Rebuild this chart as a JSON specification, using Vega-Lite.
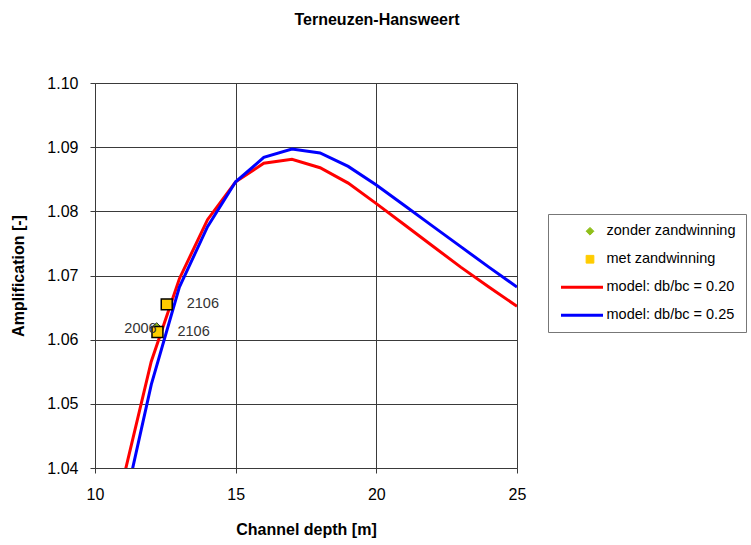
{
  "$schema": "https://vega.github.io/schema/vega-lite/v6.json",
  "width": 422,
  "height": 385,
  "autosize": "none",
  "padding": {"left": 95, "top": 83, "right": 234, "bottom": 77},
  "background": "white",
  "title": {"text": "Terneuzen-Hansweert", "font": "Liberation Sans", "fontSize": 16, "fontWeight": "bold", "color": "black", "anchor": "middle", "dx": 71, "offset": 47},
  "config": {
    "view": {"stroke": null},
    "axis": {"labelFont": "Liberation Sans", "labelFontSize": 16, "labelColor": "black", "titleFont": "Liberation Sans", "titleFontSize": 16, "titleFontWeight": "bold", "titleColor": "black", "gridColor": "#3a3a3a", "gridWidth": 1, "gridOpacity": 1, "domainColor": "#3a3a3a", "tickColor": "#3a3a3a", "tickSize": 5, "ticks": true, "labelFlush": false}
  },
  "datasets": {
    "model": [
      {"depth": 11, "amp": 1.0382, "series": "model: db/bc = 0.20"},
      {"depth": 12, "amp": 1.0566, "series": "model: db/bc = 0.20"},
      {"depth": 13, "amp": 1.0695, "series": "model: db/bc = 0.20"},
      {"depth": 14, "amp": 1.0787, "series": "model: db/bc = 0.20"},
      {"depth": 15, "amp": 1.0846, "series": "model: db/bc = 0.20"},
      {"depth": 16, "amp": 1.0875, "series": "model: db/bc = 0.20"},
      {"depth": 17, "amp": 1.0881, "series": "model: db/bc = 0.20"},
      {"depth": 18, "amp": 1.0868, "series": "model: db/bc = 0.20"},
      {"depth": 19, "amp": 1.0844, "series": "model: db/bc = 0.20"},
      {"depth": 20, "amp": 1.0812, "series": "model: db/bc = 0.20"},
      {"depth": 21, "amp": 1.0779, "series": "model: db/bc = 0.20"},
      {"depth": 22, "amp": 1.0746, "series": "model: db/bc = 0.20"},
      {"depth": 23, "amp": 1.0713, "series": "model: db/bc = 0.20"},
      {"depth": 24, "amp": 1.0682, "series": "model: db/bc = 0.20"},
      {"depth": 25, "amp": 1.0652, "series": "model: db/bc = 0.20"},
      {"depth": 11, "amp": 1.0333, "series": "model: db/bc = 0.25"},
      {"depth": 12, "amp": 1.0530, "series": "model: db/bc = 0.25"},
      {"depth": 13, "amp": 1.0682, "series": "model: db/bc = 0.25"},
      {"depth": 14, "amp": 1.0776, "series": "model: db/bc = 0.25"},
      {"depth": 15, "amp": 1.0846, "series": "model: db/bc = 0.25"},
      {"depth": 16, "amp": 1.0884, "series": "model: db/bc = 0.25"},
      {"depth": 17, "amp": 1.0897, "series": "model: db/bc = 0.25"},
      {"depth": 18, "amp": 1.0891, "series": "model: db/bc = 0.25"},
      {"depth": 19, "amp": 1.0870, "series": "model: db/bc = 0.25"},
      {"depth": 20, "amp": 1.0841, "series": "model: db/bc = 0.25"},
      {"depth": 21, "amp": 1.0809, "series": "model: db/bc = 0.25"},
      {"depth": 22, "amp": 1.0777, "series": "model: db/bc = 0.25"},
      {"depth": 23, "amp": 1.0745, "series": "model: db/bc = 0.25"},
      {"depth": 24, "amp": 1.0713, "series": "model: db/bc = 0.25"},
      {"depth": 25, "amp": 1.0682, "series": "model: db/bc = 0.25"}
    ],
    "obs": [
      {"depth": 12.19, "amp": 1.0620, "series": "zonder zandwinning", "label": "2006", "side": "left"},
      {"depth": 12.22, "amp": 1.0612, "series": "met zandwinning", "label": "2106", "side": "right"},
      {"depth": 12.55, "amp": 1.0655, "series": "met zandwinning", "label": "2106", "side": "right"}
    ]
  },
  "layer": [
    {
      "data": {"name": "model"},
      "mark": {"type": "line", "strokeWidth": 3, "clip": true},
      "encoding": {
        "x": {"field": "depth", "type": "quantitative", "scale": {"domain": [10, 25], "nice": false, "zero": false}, "axis": {"values": [10, 15, 20, 25], "title": "Channel depth [m]", "labelPadding": 13, "titlePadding": 19}},
        "y": {"field": "amp", "type": "quantitative", "scale": {"domain": [1.04, 1.10], "nice": false, "zero": false}, "axis": {"values": [1.04, 1.05, 1.06, 1.07, 1.08, 1.09, 1.10], "format": ".2f", "title": "Amplification [-]", "labelPadding": 12, "titlePadding": 20}},
        "color": {
          "field": "series", "type": "nominal",
          "scale": {"domain": ["zonder zandwinning", "met zandwinning", "model: db/bc = 0.20", "model: db/bc = 0.25"], "range": ["#8fbf1a", "#ffcc00", "#ff0000", "#0000ff"]},
          "legend": {
            "title": null, "orient": "none", "legendX": 453, "legendY": 131,
            "strokeColor": "#777777", "padding": 10,
            "labelFont": "Liberation Sans", "labelFontSize": 14.5, "labelColor": "black", "labelOffset": 34,
            "rowPadding": 13, "labelLimit": 250,
            "encode": {"symbols": {"update": {
              "x": {"signal": "(datum.label === 'zonder zandwinning' || datum.label === 'met zandwinning') ? 32 : 24"},
              "shape": {"signal": "datum.label === 'zonder zandwinning' ? 'diamond' : (datum.label === 'met zandwinning' ? 'square' : 'stroke')"},
              "size": {"signal": "(datum.label === 'zonder zandwinning' || datum.label === 'met zandwinning') ? 60 : 1764"},
              "fill": {"signal": "datum.label === 'zonder zandwinning' ? '#8fbf1a' : (datum.label === 'met zandwinning' ? '#ffcc00' : 'transparent')"},
              "stroke": {"signal": "datum.label === 'zonder zandwinning' ? '#5a7a10' : (datum.label === 'met zandwinning' ? '#000000' : (datum.label === 'model: db/bc = 0.20' ? '#ff0000' : '#0000ff'))"},
              "strokeWidth": {"signal": "(datum.label === 'zonder zandwinning' || datum.label === 'met zandwinning') ? 1 : 3"},
              "opacity": {"value": 1}
            }}}
          }
        }
      }
    },
    {
      "data": {"name": "obs"},
      "transform": [{"filter": "datum.series === 'zonder zandwinning'"}],
      "mark": {"type": "point", "shape": "diamond", "filled": true, "size": 70, "stroke": "#333333", "strokeWidth": 1, "opacity": 1},
      "encoding": {
        "x": {"field": "depth", "type": "quantitative"},
        "y": {"field": "amp", "type": "quantitative"},
        "color": {"field": "series", "type": "nominal"}
      }
    },
    {
      "data": {"name": "obs"},
      "transform": [{"filter": "datum.series === 'met zandwinning'"}],
      "mark": {"type": "square", "size": 120, "stroke": "black", "strokeWidth": 1.5, "opacity": 1},
      "encoding": {
        "x": {"field": "depth", "type": "quantitative"},
        "y": {"field": "amp", "type": "quantitative"},
        "color": {"field": "series", "type": "nominal"}
      }
    },
    {
      "data": {"name": "obs"},
      "transform": [{"filter": "datum.side === 'right'"}],
      "mark": {"type": "text", "align": "left", "baseline": "middle", "dx": 20, "font": "Liberation Sans", "fontSize": 14.5, "color": "#333333"},
      "encoding": {
        "x": {"field": "depth", "type": "quantitative"},
        "y": {"field": "amp", "type": "quantitative"},
        "text": {"field": "label"}
      }
    },
    {
      "data": {"name": "obs"},
      "transform": [{"filter": "datum.side === 'left'"}],
      "mark": {"type": "text", "align": "right", "baseline": "middle", "dx": 0, "dy": 2, "font": "Liberation Sans", "fontSize": 14.5, "color": "#333333"},
      "encoding": {
        "x": {"field": "depth", "type": "quantitative"},
        "y": {"field": "amp", "type": "quantitative"},
        "text": {"field": "label"}
      }
    }
  ]
}
